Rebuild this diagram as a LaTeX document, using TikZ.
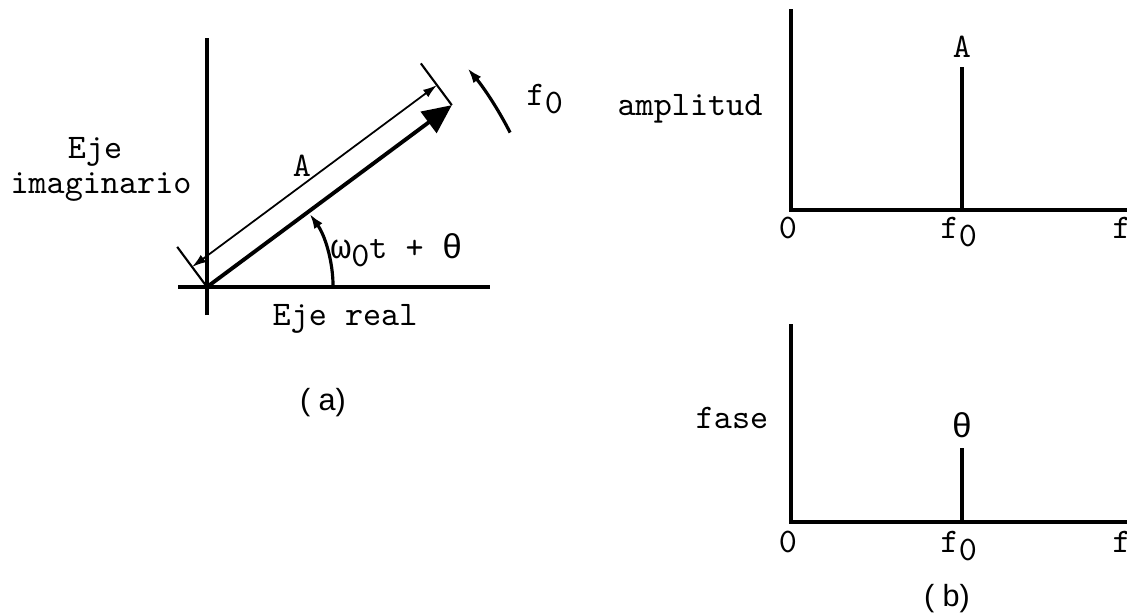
\documentclass[tikz,border=0pt]{standalone}
\usepackage{fontspec}
\setsansfont{Liberation Sans}
\newfontfamily\grk{Liberation Mono}
\usetikzlibrary{arrows.meta,calc}
\newcommand{\sbz}{\raisebox{-2.3pt}{0}}

\begin{document}
\begin{tikzpicture}[
		x=0.01cm, y=0.01cm,
		txt/.style={inner sep=0pt, font=\ttfamily\fontsize{9.8}{8}\selectfont},
		rotulo/.style={inner sep=0pt, font=\sffamily\fontsize{8.7}{8}\selectfont},
		eje/.style={line width=1.1pt},
		raya/.style={line width=0.9pt},
		fasor/.style={line width=1.1pt, -{Triangle[length=0.29cm, width=0.26cm]}},
		cota/.style={line width=0.5pt,
				{Latex[length=0.14cm, width=0.09cm]}-{Latex[length=0.14cm, width=0.09cm]}},
		guia/.style={line width=0.6pt},
		giro/.style={line width=0.9pt, -{Latex[length=0.15cm, width=0.1cm]}},
		]
		\useasboundingbox (0,0) rectangle (1127,614);
		\clip (0,0) rectangle (1127,614);

		% ---- (a) Fasor ----
		\coordinate (O) at (207,327);
		\coordinate (imTop) at (207,576);
		\coordinate (imBot) at (207,299);
		\coordinate (reIzq) at (178,327);
		\coordinate (reDer) at (490,327);
		\draw[eje] (imBot) -- (imTop);
		\draw[eje] (reIzq) -- (reDer);

		\begin{scope}[shift={(O)}, rotate=36.6]
			\coordinate (T) at (305,0);
			\coordinate (g1) at (0,50);
			\coordinate (g2) at (305,52);
			\coordinate (c1) at (0,25);
			\coordinate (c2) at (305,25);
		\end{scope}

		\draw[fasor] (O) -- (T);
		\draw[guia] (O) -- (g1);
		\draw[guia] (T) -- (g2);
		\draw[cota] (c1) -- (c2);
		\node[txt] (lblA) at (302,448) {A};

		\draw[giro] ($(O)+(0:1.26cm)$) arc[start angle=0, end angle=35.5, radius=1.26cm];
		\draw[giro] ($(O)+(27:3.4cm)$) arc[start angle=27, end angle=40, radius=3.4cm];

		\node[txt, anchor=base] (ejeIm1) at (95,456) {Eje};
		\node[txt, anchor=base] (ejeIm2) at (101,421) {imaginario};
		\node[txt, anchor=base] (ejeRe) at (345,289) {Eje real};
		\node[txt, anchor=base west] (angulo) at (330,356) {{\grk ω}\sbz t + {\grk θ}};
		\node[txt, anchor=base west] (frec) at (526,509) {f\sbz};
		\node[rotulo, anchor=base] (capA) at (323,204) {( a)};

		% ---- (b) Espectro de amplitud ----
		\coordinate (a0) at (791,404);
		\coordinate (aTop) at (791,605);
		\coordinate (aFin) at (1140,404);
		\coordinate (aF0) at (962,404);
		\coordinate (aPico) at (962,547);
		\draw[eje] (aTop) -- (a0) -- (aFin);
		\draw[raya] (aF0) -- (aPico);

		\node[txt, anchor=base] (lblAmp) at (690,499) {amplitud};
		\node[txt, anchor=base] (picoA) at (962,557) {A};
		\node[txt, anchor=base] (cero1) at (788,376) {0};
		\node[txt, anchor=base west] (fo1) at (940,376) {f\sbz};
		\node[txt, anchor=base west] (f1) at (1112,376) {f};

		% ---- (b) Espectro de fase ----
		\coordinate (p0) at (791,92);
		\coordinate (pTop) at (791,290);
		\coordinate (pFin) at (1140,92);
		\coordinate (pF0) at (962,92);
		\coordinate (pPico) at (962,166);
		\draw[eje] (pTop) -- (p0) -- (pFin);
		\draw[raya] (pF0) -- (pPico);

		\node[txt, anchor=base] (lblFase) at (732,186) {fase};
		\node[txt, anchor=base] (picoT) at (962,177) {{\grk θ}};
		\node[txt, anchor=base] (cero2) at (788,62) {0};
		\node[txt, anchor=base west] (fo2) at (940,62) {f\sbz};
		\node[txt, anchor=base west] (f2) at (1112,62) {f};
		\node[rotulo, anchor=base] (capB) at (947,8) {( b)};

	\end{tikzpicture}
\end{document}
